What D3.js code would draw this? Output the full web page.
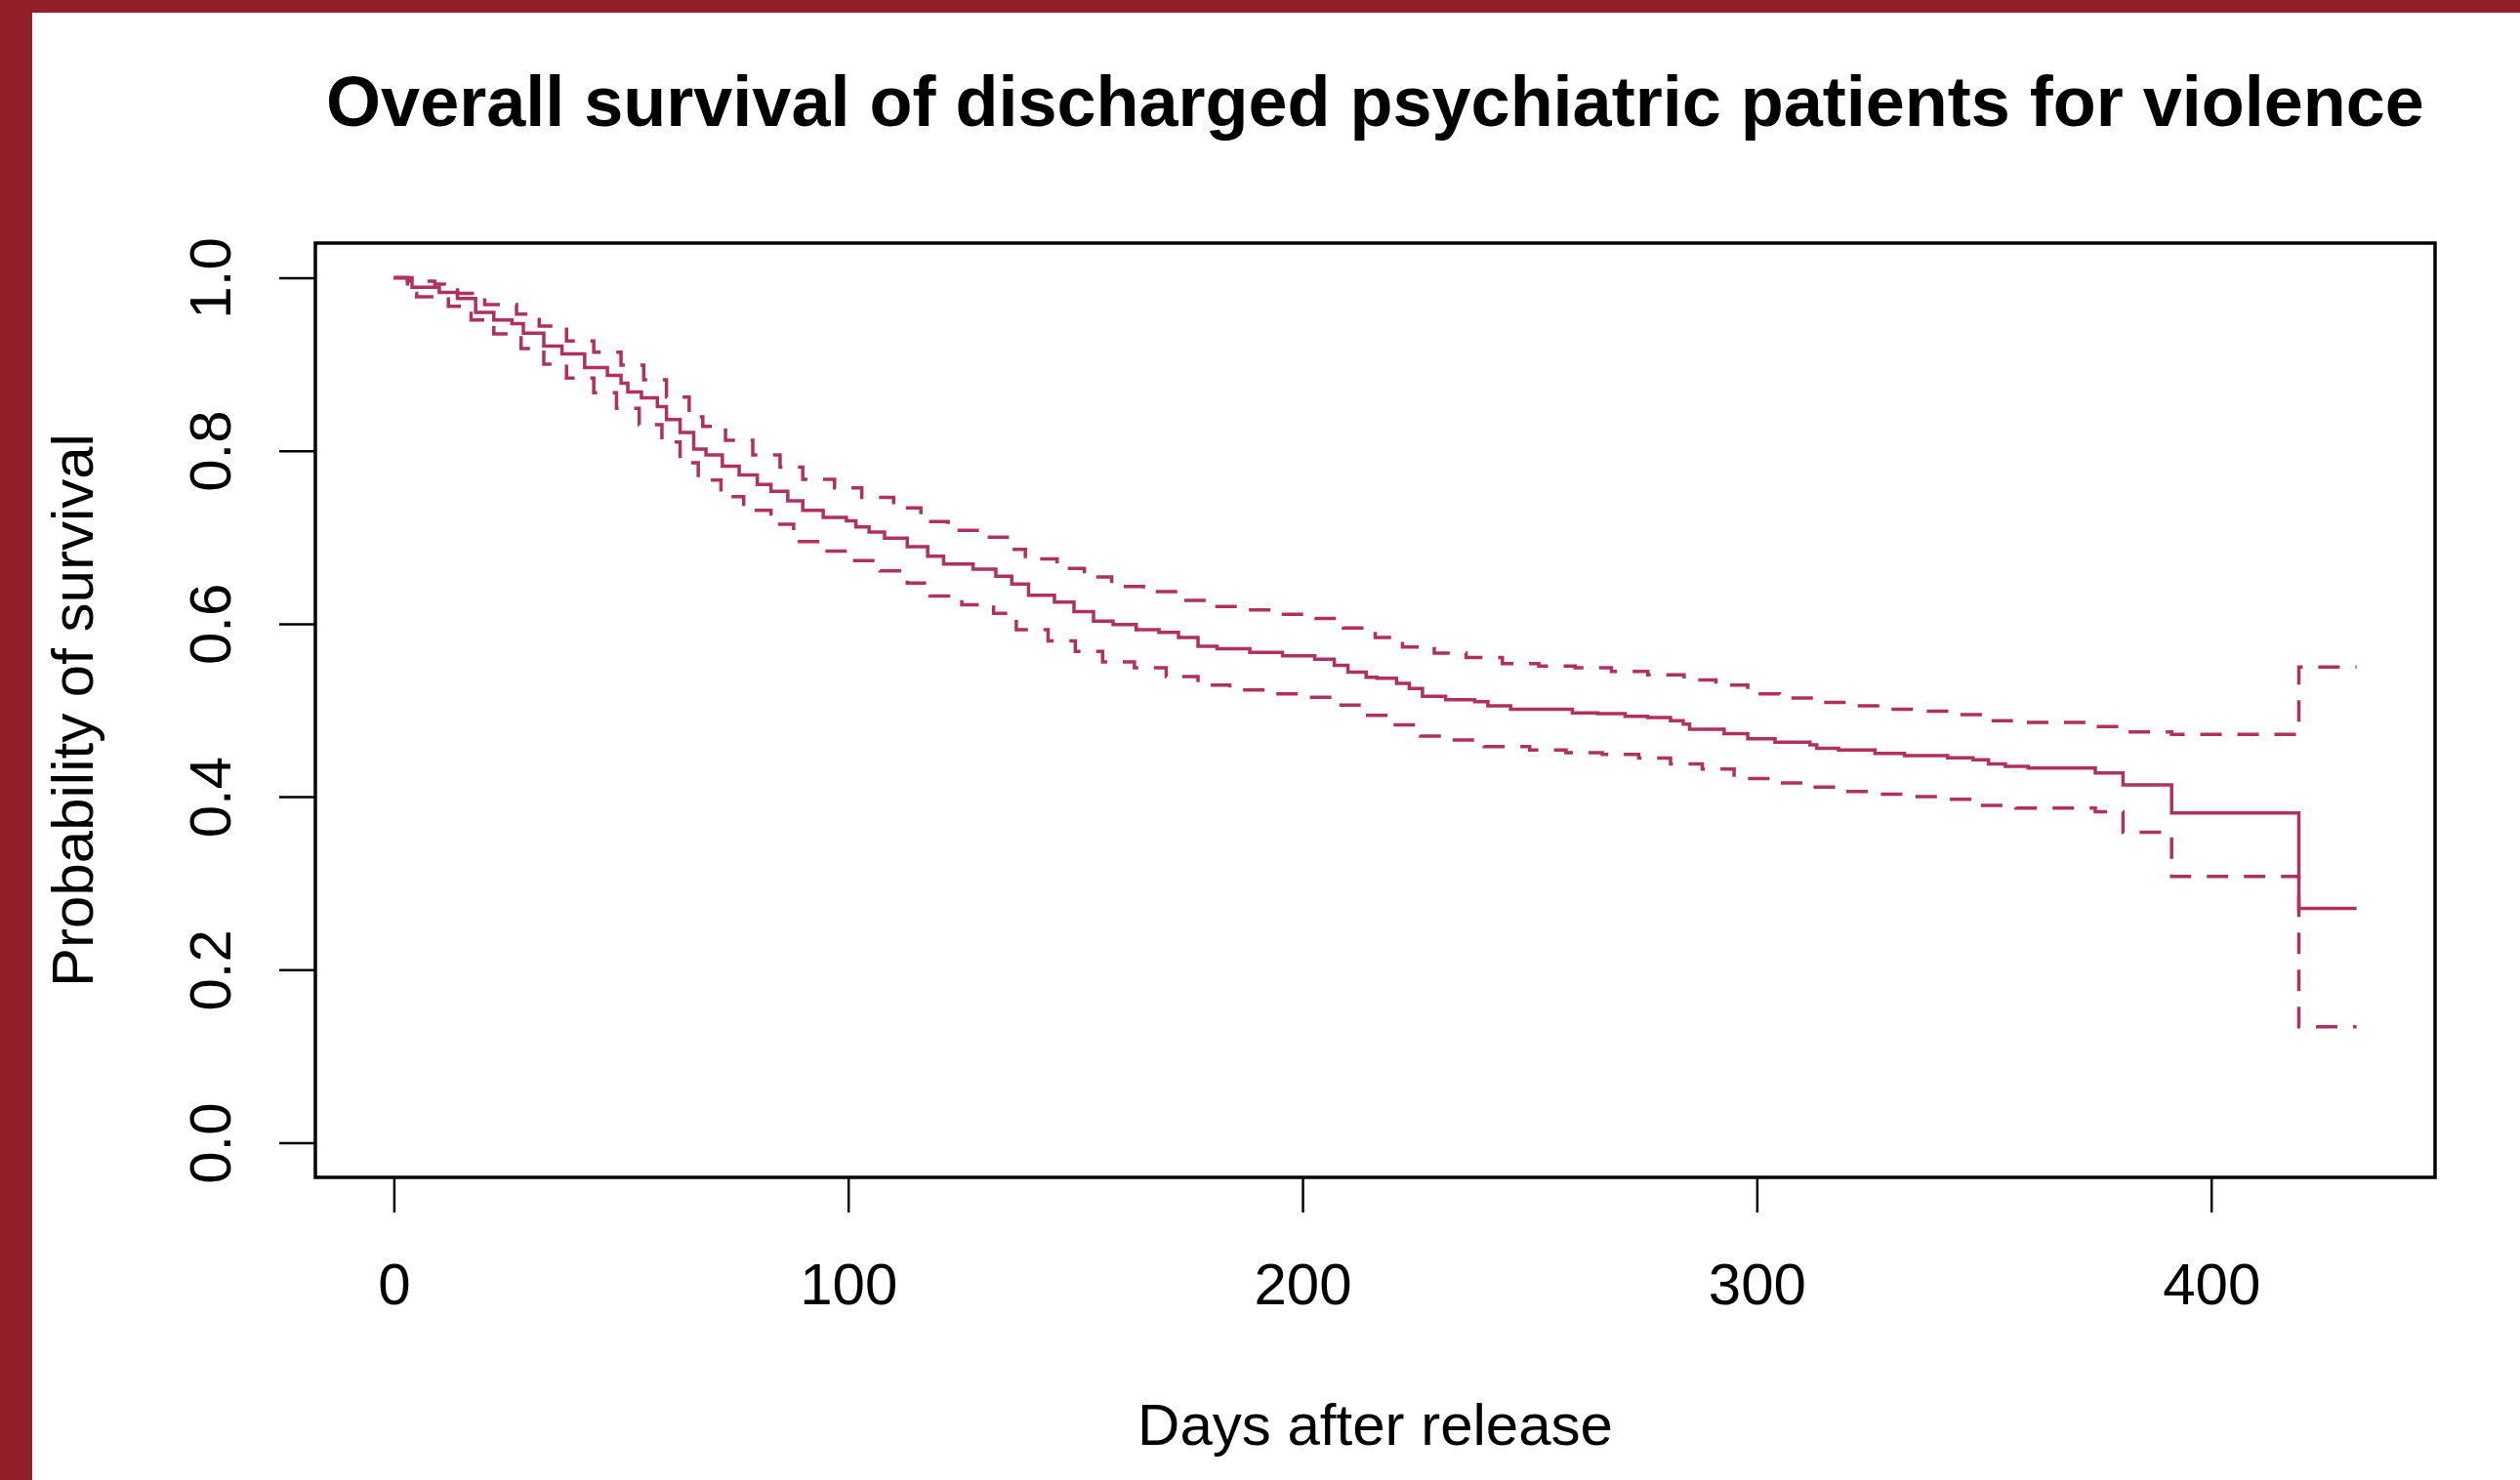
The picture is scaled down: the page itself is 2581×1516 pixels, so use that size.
<!DOCTYPE html>
<html>
<head>
<meta charset="utf-8">
<script src="https://cdnjs.cloudflare.com/ajax/libs/d3/7.8.5/d3.min.js"></script>
<style>
  body { margin: 0; background: #fff; }
  text { font-family: "Liberation Sans", Arial, Helvetica, sans-serif; }
</style>
</head>
<body>
<div id="chart"></div>
<script>
// Kaplan-Meier estimate (day, survival)
const survDays = [0, 4, 10, 14, 18, 22, 26, 28.5, 33, 37, 42, 47, 50, 51.5, 54.5, 58, 60, 63, 66, 68.7,
  72.3, 76, 80, 83, 86.7, 90, 94.5, 99.6, 101.7, 104.6, 108, 113, 117.5, 121, 127.5, 132.5, 136, 139.7,
  145.4, 149.7, 154, 158.3, 163.4, 168.4, 172.7, 177, 181.2, 188.4, 195.6, 202.7, 207, 210, 214, 216.4,
  220.7, 223.5, 226.4, 231.5, 237.9, 240.8, 245.8, 259.4, 265, 271, 276, 281, 283.8, 285.2, 292.8, 298,
  304, 311.7, 313.2, 318, 326, 332.5, 342, 347.6, 351, 354.7, 359.7, 374.5, 380.6, 391.3, 419.3, 432]
const survVals = [1.0, 0.989, 0.983, 0.976, 0.960, 0.951, 0.947, 0.936, 0.921, 0.912, 0.896, 0.887, 0.878, 0.868,
  0.861, 0.851, 0.836, 0.821, 0.802, 0.795, 0.782, 0.772, 0.761, 0.753, 0.742, 0.731, 0.723, 0.719, 0.712,
  0.706, 0.699, 0.689, 0.678, 0.669, 0.663, 0.655, 0.646, 0.633, 0.625, 0.614, 0.603, 0.599, 0.593, 0.590,
  0.584, 0.574, 0.571, 0.567, 0.563, 0.559, 0.552, 0.544, 0.538, 0.537, 0.531, 0.525, 0.516, 0.512, 0.510,
  0.505, 0.501, 0.497, 0.496, 0.493, 0.4915, 0.488, 0.484, 0.478, 0.473, 0.467, 0.463, 0.460, 0.456, 0.454,
  0.450, 0.4475, 0.445, 0.4426, 0.438, 0.435, 0.433, 0.4275, 0.4136, 0.3812, 0.271, 0.271]

// upper confidence limit
const upperDays = [0, 3, 9, 14, 20, 27, 32, 38, 44, 50, 55, 60, 65, 68, 73, 79, 85, 90, 97, 103, 110, 116,
  122, 129, 135, 139, 146, 152, 158, 165, 173, 179, 187, 195, 203, 209, 216, 222, 229, 236, 244, 252, 260,
  268, 276, 284, 291, 298, 305, 313, 320, 328, 336, 344, 351, 359, 374.5, 380.6, 391.3, 419.3, 432]
const upperVals = [1.0, 0.996, 0.9925, 0.982, 0.969, 0.958, 0.944, 0.927, 0.914, 0.899, 0.882, 0.862, 0.839,
  0.828, 0.812, 0.795, 0.781, 0.767, 0.757, 0.746, 0.734, 0.718, 0.708, 0.700, 0.686, 0.675, 0.664, 0.654,
  0.643, 0.637, 0.627, 0.620, 0.616, 0.611, 0.606, 0.595, 0.584, 0.573, 0.566, 0.561, 0.554, 0.551, 0.549,
  0.545, 0.541, 0.535, 0.529, 0.519, 0.514, 0.509, 0.505, 0.501, 0.499, 0.495, 0.488, 0.486, 0.481, 0.475,
  0.472, 0.550, 0.550]

// lower confidence limit
const lowerDays = [0, 3, 5, 12, 17, 22, 28, 33, 38, 44, 49, 54, 59, 63, 67, 72, 77, 83, 88, 94, 100, 107,
  113, 118, 125, 132, 137, 144, 150, 156, 163, 170, 177, 184, 192, 200, 207, 213, 220, 226, 233, 240, 250,
  258, 266, 274, 281, 288, 295, 303, 311, 318, 326, 334, 342, 349, 357, 374.5, 380.6, 391.3, 419.3, 432]
const lowerVals = [1.0, 0.982, 0.978, 0.967, 0.951, 0.935, 0.918, 0.900, 0.884, 0.867, 0.849, 0.830, 0.810,
  0.786, 0.766, 0.747, 0.731, 0.715, 0.695, 0.684, 0.673, 0.661, 0.647, 0.632, 0.622, 0.612, 0.593, 0.580,
  0.568, 0.556, 0.549, 0.539, 0.529, 0.5235, 0.519, 0.515, 0.506, 0.494, 0.483, 0.470, 0.4655, 0.458, 0.454,
  0.451, 0.449, 0.4446, 0.438, 0.432, 0.421, 0.416, 0.411, 0.406, 0.403, 0.400, 0.397, 0.390, 0.387, 0.3825,
  0.359, 0.308, 0.134, 0.134]

const xTicks = [0, 100, 200, 300, 400]
const yTicks = [0, 0.2, 0.4, 0.6, 0.8, 1.0]

const width = 2581,
  height = 1516
// plot box
const boxLeft = 323, boxRight = 2494, boxTop = 249, boxBottom = 1206
const curveColor = '#b03060'

let svg = d3.select('#chart')
  .append('svg')
  .attr('width', width)
  .attr('height', height)

svg.append('rect')
  .attr('width', width).attr('height', height)
  .attr('fill', '#fff')

// red frame of the slide
svg.append('rect')
  .attr('x', 0).attr('y', 0)
  .attr('width', width).attr('height', 13)
  .attr('fill', '#931f2a')
svg.append('rect')
  .attr('x', 0).attr('y', 0)
  .attr('width', 33).attr('height', height)
  .attr('fill', '#931f2a')

// R style 4% padding around data range
const xMax = d3.max(survDays)
const xScale = d3.scaleLinear()
  .domain([-0.04 * xMax, xMax * 1.04])
  .range([boxLeft, boxRight])
const yScale = d3.scaleLinear()
  .domain([-0.04, 1.04])
  .range([boxBottom, boxTop])

let line = d3.line()
  .x(d => xScale(d[0]))
  .y(d => yScale(d[1]))
  .curve(d3.curveStepAfter)

let series = [
  { pts: d3.zip(upperDays, upperVals), dash: '22,16' },
  { pts: d3.zip(lowerDays, lowerVals), dash: '22,16' },
  { pts: d3.zip(survDays, survVals), dash: null }
]

svg.selectAll('path.km')
  .data(series)
  .enter()
  .append('path')
  .attr('class', 'km')
  .attr('d', d => line(d.pts))
  .attr('fill', 'none')
  .attr('stroke', curveColor)
  .attr('stroke-width', 3.5)
  .attr('stroke-dasharray', d => d.dash)

// axes
let axisX = d3.axisBottom(xScale).tickValues(xTicks).tickSize(36).tickPadding(51)
let gx = svg.append('g')
  .attr('transform', `translate(0, ${boxBottom})`)
  .call(axisX)
gx.select('.domain').remove()
gx.selectAll('line').attr('stroke', '#000').attr('stroke-width', 2.5)
gx.selectAll('text').attr('font-size', 60).attr('fill', '#000')
gx.attr('font-family', null).attr('font-size', null)

let axisY = d3.axisLeft(yScale).tickValues(yTicks).tickFormat(d3.format('.1f')).tickSize(37)
let gy = svg.append('g')
  .attr('transform', `translate(${boxLeft}, 0)`)
  .call(axisY)
gy.select('.domain').remove()
gy.attr('font-family', null).attr('font-size', null)
gy.selectAll('line').attr('stroke', '#000').attr('stroke-width', 2.5)
gy.selectAll('text')
  .attr('font-size', 60).attr('fill', '#000')
  .attr('transform', 'rotate(-90)')
  .attr('x', 0).attr('y', -87).attr('dy', 0)
  .attr('text-anchor', 'middle')

// box round the plot
svg.append('rect')
  .attr('x', boxLeft).attr('y', boxTop)
  .attr('width', boxRight - boxLeft).attr('height', boxBottom - boxTop)
  .attr('fill', 'none')
  .attr('stroke', '#000')
  .attr('stroke-width', 3.5)

// titles
svg.append('text')
  .attr('x', (boxLeft + boxRight) / 2).attr('y', 129)
  .attr('text-anchor', 'middle')
  .attr('font-size', 72).attr('font-weight', 'bold')
  .text('Overall survival of discharged psychiatric patients for violence')

svg.append('text')
  .attr('x', (boxLeft + boxRight) / 2).attr('y', 1480)
  .attr('text-anchor', 'middle')
  .attr('font-size', 60)
  .text('Days after release')

svg.append('text')
  .attr('transform', `translate(95, ${(boxTop + boxBottom) / 2}) rotate(-90)`)
  .attr('text-anchor', 'middle')
  .attr('font-size', 60)
  .text('Probability of survival')
</script>
</body>
</html>
